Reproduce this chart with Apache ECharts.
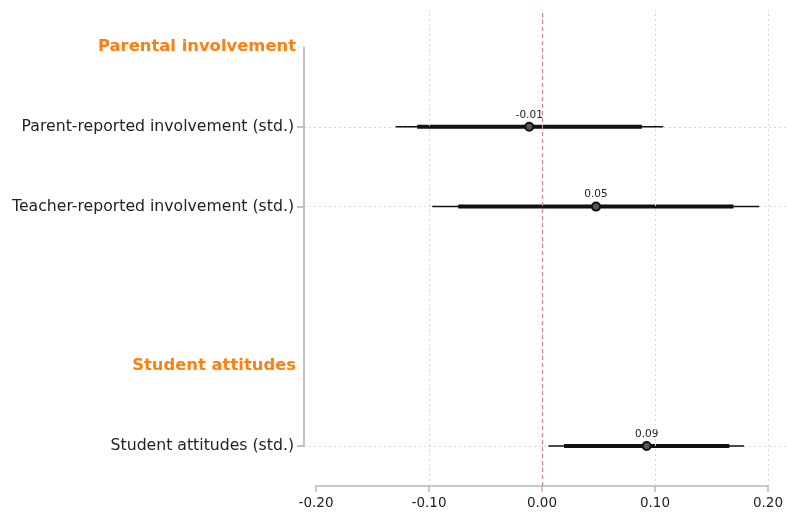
<!DOCTYPE html>
<html><head><meta charset="utf-8">
<script src="https://cdn.jsdelivr.net/npm/echarts@6/dist/echarts.min.js"></script>
<style>html,body{margin:0;padding:0;background:#fff}#c{width:787px;height:516px}</style>
</head><body><div id="c"></div>
<script>
const categories = ['Parental involvement', 'Parent-reported involvement (std.)', 'Teacher-reported involvement (std.)', '', 'Student attitudes', 'Student attitudes (std.)'];
const headers = ['Parental involvement', 'Student attitudes'];
const estimates = [null, -0.0113, 0.0478, null, null, 0.0926];
const ciOuterLow = [null, -0.1295, -0.0971, null, null, 0.0056];
const ciOuterHigh = [null, 0.1073, 0.1923, null, null, 0.1788];
const ciInnerLow = [null, -0.1104, -0.0741, null, null, 0.0195];
const ciInnerHigh = [null, 0.0884, 0.1694, null, null, 0.1658];
const xTicks = [-0.2, -0.1, 0, 0.1, 0.2];
const gridLinesAt = [-0.1, 0.1, 0.2];

const rows = [];
categories.forEach((c, i) => {
  if (estimates[i] != null) rows.push([i, estimates[i], ciOuterLow[i], ciOuterHigh[i], ciInnerLow[i], ciInnerHigh[i]]);
});

const font = 'DejaVu Sans';
const chart = echarts.init(document.getElementById('c'), null, {renderer: 'canvas'});
chart.setOption({
  animation: false,
  grid: [
    {left: 316, right: 19, top: 10, bottom: 30},
    {left: 304, right: 0, top: 47, bottom: 70}
  ],
  xAxis: [
    {gridIndex: 0, type: 'value', min: xTicks[0], max: xTicks[xTicks.length - 1], interval: 0.1,
     axisLine: {show: true, onZero: false, lineStyle: {color: '#b8b8b8', width: 1.5}},
     axisTick: {show: true, length: 6, lineStyle: {color: '#b8b8b8', width: 1.5}},
     axisLabel: {fontFamily: font, fontSize: 13.5, color: '#222', margin: 10, formatter: v => v.toFixed(2)},
     splitLine: {show: false}},
    {gridIndex: 1, type: 'value', min: -0.2 - 12 / 1130, max: 0.2 + 19 / 1130, show: false}
  ],
  yAxis: [
    {gridIndex: 0, type: 'value', min: 0, max: 1, show: false},
    {gridIndex: 1, type: 'category', data: categories, inverse: true, boundaryGap: false,
     axisLine: {show: true, onZero: false, lineStyle: {color: '#b0b0b0', width: 1.5}},
     axisTick: {show: true, length: 7, alignWithLabel: true, lineStyle: {color: '#b0b0b0', width: 1.5},
       interval: (i) => estimates[i] != null},
     splitLine: {show: true, interval: (i) => estimates[i] != null,
       lineStyle: {color: '#d8d8d8', type: [2, 3], width: 1}},
     axisLabel: {margin: 10, fontFamily: font, fontSize: 15.7, color: '#222',
       interval: 0,
       formatter: (v) => headers.indexOf(v) >= 0 ? '{h|' + v + '}' : v,
       rich: {h: {fontFamily: font, fontSize: 16.4, fontWeight: 'bold', color: '#ff7f0e', padding: [0, -2, 0, 0]}}}}
  ],
  series: [
    {type: 'line', xAxisIndex: 0, yAxisIndex: 0, data: [], silent: true,
     markLine: {symbol: 'none', silent: true, label: {show: false},
       data: gridLinesAt.map(v => ({xAxis: v, lineStyle: {color: '#d8d8d8', type: [2, 3], width: 1}}))
         .concat([{xAxis: 0, lineStyle: {color: '#d878b0', type: [4, 3], width: 1.2}}])}},
    {type: 'custom', xAxisIndex: 1, yAxisIndex: 1, data: rows,
     renderItem: (params, api) => {
       const y = api.value(0);
       const pt = api.coord([api.value(1), y]);
       const o1 = api.coord([api.value(2), y]);
       const o2 = api.coord([api.value(3), y]);
       const i1 = api.coord([api.value(4), y]);
       const i2 = api.coord([api.value(5), y]);
       return {type: 'group', children: [
         {type: 'line', shape: {x1: o1[0], y1: o1[1], x2: o2[0], y2: o2[1]}, style: {stroke: '#111', lineWidth: 1.5}},
         {type: 'line', shape: {x1: i1[0], y1: i1[1], x2: i2[0], y2: i2[1]}, style: {stroke: '#111', lineWidth: 4}},
         {type: 'circle', shape: {cx: pt[0], cy: pt[1], r: 4}, style: {fill: '#555', stroke: '#111', lineWidth: 2}},
         {type: 'text', x: pt[0], y: pt[1] - 12, style: {text: api.value(1).toFixed(2), fontFamily: font, fontSize: 10.5, fill: '#222', align: 'center', verticalAlign: 'middle'}}
       ]};
     }}
  ]
});
</script></body></html>
